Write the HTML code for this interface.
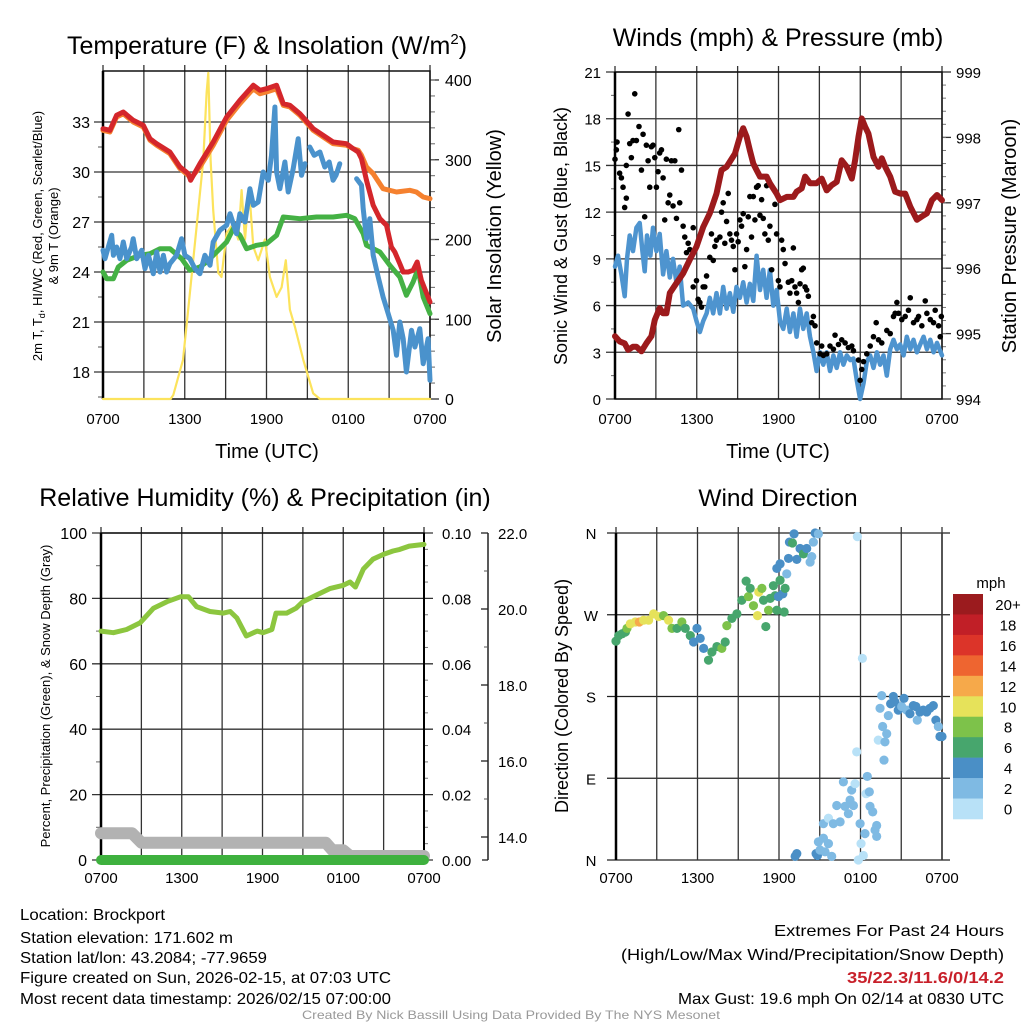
<!DOCTYPE html>
<html><head><meta charset="utf-8"><style>
html,body{margin:0;padding:0;background:#fff;}
svg{display:block;font-family:"Liberation Sans",sans-serif;}
</style></head><body>
<svg id="chart" xmlns="http://www.w3.org/2000/svg" width="1024" height="1024" viewBox="0 0 1024 1024">
<rect x="0" y="0" width="1024" height="1024" fill="#fff"/>
<g id="layer"></g>
<text x="267" y="54" font-size="25" text-anchor="middle">Temperature (F) &amp; Insolation (W/m<tspan font-size="15" dy="-10">2</tspan><tspan dy="10">)</tspan></text>
<text x="778" y="46" font-size="25" text-anchor="middle">Winds (mph) &amp; Pressure (mb)</text>
<text x="265" y="506" font-size="25" text-anchor="middle">Relative Humidity (%) &amp; Precipitation (in)</text>
<text x="778" y="506" font-size="24.5" text-anchor="middle">Wind Direction</text>
<text transform="translate(42,236) rotate(-90)" font-size="13" text-anchor="middle">2m T, T<tspan font-size="9" dy="3">d</tspan><tspan dy="-3">, HI/WC (Red, Green, Scarlet/Blue)</tspan></text>
<text transform="translate(58,236) rotate(-90)" font-size="13" text-anchor="middle">&amp; 9m T (Orange)</text>
<text transform="translate(501,236) rotate(-90)" font-size="20" text-anchor="middle">Solar Insolation (Yellow)</text>
<text x="267" y="458" font-size="20" text-anchor="middle">Time (UTC)</text>
<text transform="translate(567,236) rotate(-90)" font-size="18" text-anchor="middle">Sonic Wind &amp; Gust (Blue, Black)</text>
<text transform="translate(1016,236) rotate(-90)" font-size="20" text-anchor="middle">Station Pressure (Maroon)</text>
<text x="778" y="458" font-size="20" text-anchor="middle">Time (UTC)</text>
<text transform="translate(50,696) rotate(-90)" font-size="13" text-anchor="middle">Percent, Precipitation (Green), &amp; Snow Depth (Gray)</text>
<text transform="translate(568,696) rotate(-90)" font-size="18" text-anchor="middle">Direction (Colored By Speed)</text>
<text x="991" y="588" font-size="15" text-anchor="middle">mph</text>
<g font-size="16">
<text x="20" y="920" textLength="145" lengthAdjust="spacingAndGlyphs">Location: Brockport</text>
<text x="20" y="943" textLength="213" lengthAdjust="spacingAndGlyphs">Station elevation: 171.602 m</text>
<text x="20" y="963" textLength="247" lengthAdjust="spacingAndGlyphs">Station lat/lon: 43.2084; -77.9659</text>
<text x="20" y="983" textLength="371" lengthAdjust="spacingAndGlyphs">Figure created on Sun, 2026-02-15, at 07:03 UTC</text>
<text x="20" y="1004" textLength="371" lengthAdjust="spacingAndGlyphs">Most recent data timestamp: 2026/02/15 07:00:00</text>
</g>
<g font-size="16">
<text x="774" y="936" textLength="230" lengthAdjust="spacingAndGlyphs">Extremes For Past 24 Hours</text>
<text x="621" y="960" textLength="383" lengthAdjust="spacingAndGlyphs">(High/Low/Max Wind/Precipitation/Snow Depth)</text>
<text x="847" y="983" textLength="157" lengthAdjust="spacingAndGlyphs" fill="#c8202a" font-weight="bold">35/22.3/11.6/0/14.2</text>
<text x="678" y="1004" textLength="326" lengthAdjust="spacingAndGlyphs">Max Gust: 19.6 mph On 02/14 at 0830 UTC</text>
</g>
<text x="302" y="1019" font-size="12" fill="#999" textLength="418" lengthAdjust="spacingAndGlyphs">Created By Nick Bassill Using Data Provided By The NYS Mesonet</text>
</svg>
<script>
// ---- Data (times in hours after 0700 UTC) ----
const timeTickLabels = ['0700','1300','1900','0100','0700'];
const tempTicks = [33,30,27,24,21,18];
const solarTicks = [400,300,200,100,0];
const windTicks = [21,18,15,12,9,6,3,0];
const presTicks = [999,998,997,996,995,994];
const rhTicks = [100,80,60,40,20,0];
const precipTicks = ['0.10','0.08','0.06','0.04','0.02','0.00'];
const snowTicks = ['22.0','20.0','18.0','16.0','14.0'];
const dirTickLabels = ['N','W','S','E','N'];
const speedBins = ['20+','18','16','14','12','10','8','6','4','2','0'];

const redT = [0,0.51,1.0,1.49,2.22,2.96,3.45,3.94,4.91,5.65,6.26,6.43,7.11,8.09,9.07,10.05,11.03,11.52,12.0,12.74,13.23,13.72,14.45,15.43,16.89,17.87,18.36,18.73,18.97,19.34,19.83,20.32,20.81,21.17,21.42,21.78,22.03,22.4,22.76,23.06,23.37,24];
const redV = [32.6,32.5,33.4,33.6,33.1,32.8,32.0,31.7,31.2,30.3,29.9,29.5,30.5,31.8,33.3,34.3,35.2,34.9,35.0,35.2,34.1,34.0,33.5,32.6,31.8,31.7,31.4,31.2,30.8,29.5,28.0,27.2,26.8,25.5,25.2,24.5,24.0,24.0,24.1,24.6,23.5,22.2];
const orangeT = [0,0.51,1.0,1.49,2.22,2.96,3.45,3.94,4.91,5.65,6.26,6.43,7.11,8.09,9.07,10.05,11.03,11.52,12.0,12.74,13.23,13.72,14.45,15.43,16.89,17.87,18.36,18.73,18.97,19.34,19.83,20.56,21.54,22.52,23.0,23.5,24];
const orangeV = [32.5,32.4,33.3,33.5,33.0,32.7,31.9,31.6,31.1,30.2,29.8,29.6,30.3,31.6,33.1,34.1,35.0,34.7,34.8,35.0,34.0,33.9,33.4,32.5,31.7,31.6,31.4,31.3,31.0,30.3,29.9,29.0,28.8,28.9,28.8,28.5,28.4];
const greenT = [0,0.27,0.76,1.12,1.74,2.71,3.45,4.18,4.91,5.77,6.38,7.11,7.6,8.34,9.07,9.56,10.05,10.54,11.27,12.0,12.74,13.23,14.45,15.67,16.89,17.87,18.48,19.1,19.34,20.32,21.05,21.78,22.27,22.76,23.13,23.5,24];
const greenV = [24.0,23.6,23.6,24.3,24.7,25.0,25.1,25.4,25.4,24.8,24.1,24.3,24.6,25.2,25.8,26.6,26.2,25.4,25.6,25.7,26.2,27.3,27.2,27.3,27.3,27.4,27.2,26.3,25.6,25.2,24.4,23.7,22.6,23.4,24.2,22.5,21.5];
const blueT1 = [0,0.15,0.39,0.64,0.76,1.0,1.25,1.49,1.74,2.1,2.22,2.47,2.84,3.08,3.33,3.69,3.94,4.18,4.43,4.67,4.91,5.4,5.77,6.01,6.38,6.75,7.11,7.48,7.85,8.09,8.58,9.07,9.32,9.8,10.05,10.42,10.78,11.03,11.39,11.76,12.13,12.37,12.62,12.74,12.98,13.35,13.59,13.96,14.33,14.57,14.82];
const blueV1 = [25.3,24.8,25.5,26.2,25.0,25.5,24.8,25.8,24.8,25.5,26.0,24.8,25.3,24.2,25.0,23.9,25.2,24.0,25.0,24.0,24.5,25.0,26.0,25.0,24.8,24.2,23.9,25.0,24.4,25.8,26.5,26.8,27.5,26.3,27.5,27.0,29.0,28.0,28.2,30.0,29.5,31.0,33.9,30.0,29.0,30.6,28.8,30.2,32.0,29.8,30.5];
const blueT2 = [15.18,15.5,15.92,16.28,16.6,16.89,17.1,17.38];
const blueV2 = [31.5,31.0,31.2,30.3,30.6,29.5,29.8,30.5];
const blueT3 = [18.61,18.97,19.1,19.34,19.58,19.83,20.2,20.56,20.93,21.3,21.54,21.78,22.03,22.27,22.64,22.89,23.25,23.5,23.86,24];
const blueV3 = [29.6,29.2,27.8,26.0,27.2,25.0,23.7,22.5,21.5,20.5,19.0,21.0,20.0,18.0,20.5,19.5,20.6,18.5,20.0,17.5];
const solarT = [0,4.96,5.16,5.87,6.38,6.87,7.36,7.6,7.73,7.9,8.09,8.46,8.7,9.07,9.56,9.93,10.17,10.42,10.73,11.03,11.39,11.88,12.25,12.74,13.11,13.42,13.72,14.08,14.7,15.43,15.92,24];
const solarV = [0,0,5,49,133,216,300,384,409,300,237,158,153,208,220,200,262,200,262,191,174,200,153,128,140,174,112,91,49,7,0,0];

const windT = [0,0.22,0.47,0.71,0.88,1.08,1.32,1.57,1.81,2.01,2.18,2.35,2.6,2.79,3.04,3.28,3.53,3.77,4.02,4.26,4.51,4.75,5.0,5.37,5.74,5.98,6.23,6.47,6.72,6.96,7.21,7.45,7.7,7.94,8.19,8.43,8.68,8.92,9.17,9.41,9.66,9.9,10.15,10.39,10.64,10.88,11.13,11.37,11.62,11.86,12.11,12.35,12.6,12.84,13.09,13.33,13.58,13.82,14.07,14.31,14.56,14.8,15.05,15.29,15.54,15.78,16.03,16.27,16.52,16.76,17.01,17.26,17.5,17.75,17.99,18.24,18.48,18.73,18.97,19.22,19.46,19.71,19.95,20.2,20.44,20.69,20.93,21.18,21.42,21.67,21.91,22.16,22.4,22.65,22.89,23.14,23.38,23.63,24];
const windV = [8.5,9.2,8.0,6.6,9.0,10.5,9.5,11.0,11.3,9.5,8.2,10.5,9.2,11.0,9.5,10.6,8.0,9.5,7.8,9.0,7.5,8.5,6.0,6.2,5.8,5.0,4.3,5.0,5.5,6.5,5.5,6.8,5.5,7.2,5.8,6.8,5.6,7.2,6.5,7.5,6.2,7.4,6.3,9.2,7.0,8.3,6.5,8.3,6.0,7.0,5.0,4.5,5.8,4.3,5.5,4.0,5.8,4.5,5.5,4.0,3.0,1.8,3.0,2.2,3.0,1.8,2.8,2.0,3.0,2.2,2.8,2.5,2.6,1.2,0.0,1.0,2.4,2.8,2.0,3.0,2.2,2.8,1.5,3.2,3.8,3.2,3.5,2.8,4.0,3.2,3.8,3.0,3.5,4.0,3.2,3.8,3.0,3.6,2.8];
const gustT = [0,0.1,0.15,0.34,0.47,0.59,0.83,0.71,0.83,0.96,1.08,1.2,1.32,1.45,1.57,1.76,1.94,2.06,2.18,2.3,2.43,2.55,2.67,2.79,2.92,3.04,3.16,3.28,3.41,3.53,3.65,3.77,3.9,4.02,4.14,4.26,4.39,4.51,4.68,4.75,4.88,5.0,5.12,5.25,5.37,5.49,5.74,5.74,5.98,6.1,6.23,6.35,6.47,6.59,6.72,6.96,7.08,7.21,7.33,7.45,7.7,7.82,7.94,8.06,8.19,8.31,8.43,8.55,8.68,8.8,8.92,9.04,9.17,9.29,9.41,9.53,9.66,9.78,9.9,10.02,10.15,10.27,10.39,10.51,10.64,10.76,10.88,11.0,11.13,11.25,11.37,11.5,11.74,11.86,11.99,12.11,12.23,12.35,12.48,12.72,12.84,12.97,13.09,13.21,13.33,13.46,13.58,13.7,13.82,13.95,14.07,14.19,14.44,14.56,14.68,14.8,15.05,15.17,15.29,15.54,15.78,16.03,16.15,16.4,16.64,16.89,17.13,17.38,17.5,17.87,17.99,18.11,18.24,18.48,18.73,18.97,19.17,19.34,19.58,19.95,20.2,20.44,20.56,20.69,20.81,21.05,21.3,21.54,21.67,21.91,22.16,22.28,22.52,22.77,22.89,23.14,23.38,23.5,23.75,23.87,23.95];
const gustV = [15.4,16.0,16.5,14.5,14.2,13.6,15.0,12.3,12.9,18.3,16.4,15.5,16.6,19.6,16.6,17.5,14.7,17.0,11.7,16.3,15.3,13.6,16.2,16.3,15.5,13.6,14.6,15.8,16.0,14.2,11.5,15.4,12.6,13.1,15.3,12.4,15.3,11.6,17.3,12.6,14.7,11.1,10.4,9.4,10.0,9.6,7.2,11.0,7.6,6.4,6.2,5.9,7.2,7.2,7.9,9.1,10.6,8.9,9.8,10.2,10.4,12.0,12.6,10.0,11.4,13.2,10.6,10.2,9.8,8.3,10.6,10.1,11.5,11.1,11.9,8.5,9.6,11.7,13.0,10.4,13.0,11.5,13.6,13.7,11.8,12.8,11.6,10.6,13.7,10.2,11.1,8.3,12.5,10.6,7.6,7.2,10.2,9.6,8.7,7.5,6.8,7.6,9.7,7.2,6.8,6.2,7.4,8.3,8.4,7.2,7.0,6.6,4.9,5.3,4.7,3.6,2.9,3.4,2.8,2.9,3.4,3.2,4.1,3.5,3.8,3.6,3.3,3.4,3.1,2.5,1.2,1.9,2.4,2.9,3.4,4.0,4.9,3.8,3.6,4.4,4.2,5.3,5.5,6.2,5.5,5.1,5.3,5.7,6.5,4.9,5.1,5.3,4.7,6.3,5.5,5.1,4.9,5.7,4.7,4.0,5.3];
const presT = [0,0.34,0.71,0.96,1.32,1.57,1.94,2.3,2.67,2.92,3.28,3.53,3.77,4.02,4.51,5.0,5.49,5.98,6.47,6.96,7.45,7.82,8.19,8.43,8.8,9.17,9.41,9.66,9.9,10.15,10.39,10.64,11.13,11.37,11.86,12.11,12.6,13.09,13.33,13.7,13.95,14.31,14.8,15.17,15.54,15.91,16.27,16.64,17.01,17.38,17.62,17.87,18.11,18.36,18.6,18.97,19.34,19.58,19.83,20.2,20.56,20.93,21.3,21.67,22.16,22.52,22.89,23.26,23.63,24];
const presV = [994.96,994.88,994.85,994.75,994.8,994.8,994.73,994.85,994.96,995.21,995.39,995.31,995.31,995.62,995.77,995.92,996.13,996.33,996.63,996.84,997.14,997.5,997.55,997.63,997.75,998.01,998.14,998.01,997.8,997.6,997.5,997.4,997.4,997.3,997.14,997.04,997.09,997.09,997.17,997.22,997.4,997.3,997.3,997.37,997.19,997.27,997.32,997.65,997.55,997.37,997.65,998.01,998.29,998.16,998.06,997.7,997.55,997.68,997.55,997.4,997.17,997.14,997.14,996.94,996.74,996.79,996.84,997.04,997.12,997.04];

const rhT = [0,0.92,1.9,2.9,3.9,4.9,5.9,6.5,7.1,8.1,9.1,9.6,10.1,10.8,11.6,12.05,12.7,13.0,13.8,14.5,15.0,16.0,17.0,18.0,18.5,18.9,19.5,20.2,21.0,21.7,22.2,22.9,24];
const rhV = [70,69.5,70.5,72.5,77,79,80.5,80.5,77.5,76,75.5,76,74,68.5,70,69.5,70.5,75.5,75.5,77,79,81,83,84,85,83.5,89,92,93.5,94.5,95,96,96.5];
const snowT = [0,2.3,3.0,16.7,17.2,18.0,18.5,24];
const snowV = [14.1,14.1,13.85,13.85,13.65,13.65,13.5,13.5];
const precipT = [0,24];
const precipV = [0,0];

const dirT = [0,0.2,0.44,0.69,0.81,1.05,1.42,1.72,2.03,2.4,2.77,3.14,3.5,3.87,4.12,4.49,4.85,5.1,5.47,5.71,5.96,6.2,6.45,6.81,7.06,7.43,7.79,8.04,8.16,8.53,8.9,9.26,9.58,9.75,9.88,10.12,10.42,10.51,10.74,10.86,11.03,11.23,11.35,11.59,11.72,11.84,11.96,12.08,12.28,12.38,12.45,11.84,12.08,12.57,12.7,12.77,12.99,13.11,13.31,13.55,13.8,14.04,14.29,14.41,14.53,14.66,14.9,17.77,18.14,13.19,13.31,14.73,14.83,14.9,15.27,15.64,15.88,15.39,15.02,15.27,15.64,16.0,16.25,16.5,16.74,16.86,17.11,17.23,17.35,17.48,17.6,17.72,17.84,17.97,18.04,18.21,18.33,18.41,18.5,18.65,18.7,18.9,19.07,19.19,19.19,19.31,19.44,19.56,19.63,19.73,19.8,19.93,20.05,20.22,20.42,20.54,20.78,21.03,21.2,21.4,21.64,21.89,22.08,22.18,22.38,22.62,22.87,23.11,23.36,23.55,23.73,23.85,24.0];
const dirD = [241,247,249,251,255,260,262,262,264,264,271,268,269,264,255,255,262,255,247,240,255,244,233,220,229,235,233,240,258,266,271,286,307,290,299,280,269,295,299,286,257,275,288,302,291,275,290,308,293,273,299,321,326,315,332,350,349,359,331,343,337,343,328,334,350,360,359,356,222,4,7,7,5,20,24,18,4,9,11,40,46,40,60,42,86,59,51,66,77,60,84,119,0,40,18,5,29,73,92,75,59,53,33,38,26,132,167,181,147,110,130,139,159,172,180,174,165,169,178,165,161,170,169,154,163,165,163,167,170,154,147,136,136];
const dirS = [7,7,7,7,8,10,11,13,10,10,10,10,8,10,8,7,8,6,6,5,4,4,4,6,6,6,8,6,8,6,6,6,6,8,7,8,10,10,8,7,6,8,7,6,6,6,4,6,4,6,6,4,4,3,4,4,6,4,4,4,6,4,3,3,3,4,3,1,1,4,4,4,4,3,2,2,2,2,2,2,1,2,3,2,3,2,3,2,2,2,1,1,1,3,1,1,3,1,3,3,3,3,3,3,3,1,2,3,3,3,2,3,2,4,4,4,4,3,4,3,4,4,4,3,4,4,4,4,4,4,3,4,4];
const speedColors = ['#9b1b1e','#c11f27','#dc3429','#ee6530','#f6a94a','#e6e25a','#7dc24a','#47a66d','#4a8fc6','#7fbae3','#b8e1f7'];

// ---- Helpers ----
const NS = 'http://www.w3.org/2000/svg';
const layer = document.getElementById('layer');
function mk(tag, attrs) {
  const e = document.createElementNS(NS, tag);
  for (const k in attrs) e.setAttribute(k, attrs[k]);
  layer.appendChild(e);
  return e;
}
function line(x1, y1, x2, y2, stroke, w) {
  return mk('line', {x1: x1, y1: y1, x2: x2, y2: y2, stroke: stroke, 'stroke-width': w});
}
function txt(x, y, s, size, anchor) {
  const e = mk('text', {x: x, y: y, 'font-size': size, 'text-anchor': anchor});
  e.textContent = s;
  return e;
}
function pathFrom(ts, vs, xf, yf) {
  let d = '';
  for (let i = 0; i < ts.length; i++) d += (i ? 'L' : 'M') + xf(ts[i]).toFixed(1) + ',' + yf(vs[i]).toFixed(1);
  return d;
}
function series(ts, vs, xf, yf, color, w, name) {
  const p = mk('path', {d: pathFrom(ts, vs, xf, yf), fill: 'none', stroke: color, 'stroke-width': w, 'stroke-linejoin': 'round', 'stroke-linecap': 'round'});
  
  
  return p;
}

function timeAxis(x0, x1, y0, y1, labelY, prefix) {
  const xf = t => x0 + t * (x1 - x0) / 24;
  for (let h = 0; h <= 24; h += 3) {
    const g = line(xf(h), y0 - 6, xf(h), y1, '#333', 1.3);
    
    
  }
  timeTickLabels.forEach((s, i) => {
    const t = txt(xf(i * 6), labelY, s, 15, 'middle');
    
    
  });
  return xf;
}

// ===== Panel 1: Temperature =====
(function () {
  const x0 = 103, x1 = 430, y0 = 71, y1 = 399;
  const yL = v => 122 + (33 - v) * 50 / 3;
  const yR = v => 399 - v * 0.7975;
  tempTicks.forEach(v => {
    const g = line(x0 - 9, yL(v), x1, yL(v), '#333', 1.3);
    
    
    const t = txt(x0 - 13, yL(v) + 6, String(v), 16, 'end');
    
    
    const m = line(x0 - 5, yL(v - 1.5), x0, yL(v - 1.5), '#555', 1);
    
    
  });
  const xf = timeAxis(x0, x1, y0, y1, 424, 'temperature');
  solarTicks.forEach(v => {
    const g = line(x1, yR(v), x1 + 9, yR(v), '#333', 1.3);
    
    
    const t = txt(x1 + 15, yR(v) + 6, String(v), 16, 'start');
    
    
  });
  for (let v = 20; v < 410; v += 20) {
    const m = line(x1, yR(v), x1 + 5, yR(v), '#666', 1);
    
    
  }
  const fr = mk('rect', {x: x0, y: y0, width: x1 - x0, height: y1 - y0, fill: 'none', stroke: '#111', 'stroke-width': 1.5});
  
  
  line(x0, y0, x0, y1, '#000', 2.5);
  series(solarT, solarV, xf, yR, '#fce35c', 2.2, 'solar-insolation-line');
  series(greenT, greenV, xf, yL, '#44b144', 5, 'dewpoint-line');
  series(orangeT, orangeV, xf, yL, '#f5812f', 5, 'temp-9m-line');
  series(blueT1, blueV1, xf, yL, '#4a92cc', 5, 'hi-wc-line');
  series(blueT2, blueV2, xf, yL, '#4a92cc', 5, 'hi-wc-line-segment-2');
  series(blueT3, blueV3, xf, yL, '#4a92cc', 5, 'hi-wc-line-segment-3');
  series(redT, redV, xf, yL, '#d4262b', 5, 'temp-2m-line');
})();

// ===== Panel 2: Winds & Pressure =====
(function () {
  const x0 = 615, x1 = 942, y0 = 72, y1 = 399;
  const yL = v => 399 - v * 327 / 21;
  const yR = p => 399 - (p - 994) * 327 / 5;
  windTicks.forEach(v => {
    const g = line(x0 - 9, yL(v), x1, yL(v), '#333', 1.3);
    
    
    const t = txt(x0 - 14, yL(v) + 6, String(v), 15, 'end');
    
    
    if (v > 0) {
      const m = line(x0 - 4, yL(v - 1.5), x0, yL(v - 1.5), '#666', 1);
      
      
    }
  });
  const xf = timeAxis(x0, x1, y0, y1, 424, 'wind');
  presTicks.forEach(p => {
    const g = line(x1, yR(p), x1 + 9, yR(p), '#333', 1.3);
    
    
    const t = txt(x1 + 14, yR(p) + 6, String(p), 15, 'start');
    
    
  });
  for (let p = 994.2; p < 999; p += 0.2) {
    const m = line(x1, yR(p), x1 + 4, yR(p), '#777', 1);
    
    
  }
  const fr = mk('rect', {x: x0, y: y0, width: x1 - x0, height: y1 - y0, fill: 'none', stroke: '#111', 'stroke-width': 1.5});
  
  
  line(x0, y0, x0, y1, '#000', 2.5);
  series(windT, windV, xf, yL, '#4e94cf', 4.5, 'sonic-wind-line');
  gustT.forEach((t, i) => {
    const c = mk('circle', {cx: xf(t), cy: yL(gustV[i]), r: 2.8, fill: '#000'});
    
    
  });
  series(presT, presV, xf, yR, '#9c1a1c', 6, 'pressure-line');
})();

// ===== Panel 3: RH & Precip =====
(function () {
  const x0 = 101, x1 = 424, y0 = 533, y1 = 860;
  const yL = v => 860 - v * 3.27;
  const yS = v => 533 + (22 - v) * 38;
  rhTicks.forEach((v, i) => {
    const g = line(x0 - 9, yL(v), x1 + 9, yL(v), '#333', 1.3);
    
    
    const t = txt(x0 - 14, yL(v) + 6, String(v), 16, 'end');
    
    
    const t2 = txt(x1 + 18, yL(v) + 6, precipTicks[i], 15, 'start');
    
    
    if (v > 0) {
      const m = line(x0 - 5, yL(v - 10), x0, yL(v - 10), '#666', 1);
      
      
      for (let k = 1; k < 4; k++) {
        const mm = line(x1, yL(v - k * 5), x1 + 4, yL(v - k * 5), '#777', 1);
        
        
      }
    }
  });
  const ax = line(488, 533, 488, 860, '#222', 1.5);
  
  
  snowTicks.forEach(s => {
    const v = parseFloat(s);
    const g = line(481, yS(v), 488, yS(v), '#222', 1.3);
    
    
    const t = txt(498, yS(v) + 6, s, 15, 'start');
    
    
    if (yS(v - 1) <= 861) {
      const m = line(484, yS(v - 1), 488, yS(v - 1), '#555', 1);
      
      
    }
  });
  const bt = line(482, 860, 488, 860, '#222', 1.3);
  
  
  const xf = timeAxis(x0, x1, y0, y1, 883, 'rh');
  const fr = mk('rect', {x: x0, y: y0, width: x1 - x0, height: y1 - y0, fill: 'none', stroke: '#111', 'stroke-width': 1.5});
  
  
  line(x0, y0, x0, y1, '#000', 2.5);
  line(x1, y0, x1, y1, '#000', 2);
  series(snowT, snowV, xf, yS, '#b2b2b2', 12, 'snow-depth-line');
  series(precipT, precipV, xf, yL, '#3eb13e', 10, 'precip-line');
  series(rhT, rhV, xf, yL, '#8cc63f', 5, 'rh-line');
})();

// ===== Panel 4: Wind direction =====
(function () {
  const x0 = 616, x1 = 942, y0 = 533, y1 = 860;
  const yD = d => 860 - d * 327 / 360;
  dirTickLabels.forEach((s, i) => {
    const d = 360 - i * 90;
    const g = line(x0 - 9, yD(d), x1 + 8, yD(d), '#222', 1.3);
    
    
    const t = txt(591, yD(d) + 6, s, 15, 'middle');
    
    
  });
  const xf = timeAxis(x0, x1, y0, y1, 883, 'direction');
  line(x0, y0, x0, y1, '#000', 2.5);
  line(x1, y0, x1, y1, '#333', 1.5);
  dirT.forEach((t, i) => {
    const bin = Math.min(10, Math.floor(dirS[i] / 2));
    const c = mk('circle', {cx: xf(t), cy: yD(dirD[i]), r: 4.6, fill: speedColors[10 - bin]});
    
    
  });
  const cbTop = 594, cbH = 225 / 11;
  speedBins.forEach((s, i) => {
    const r = mk('rect', {x: 953, y: cbTop + i * cbH, width: 30, height: cbH + 0.3, fill: speedColors[i]});
    
    
    const t = txt(1008, cbTop + i * cbH + 16, s, 15, 'middle');
    
    
  });
})();
</script>
</body></html>
